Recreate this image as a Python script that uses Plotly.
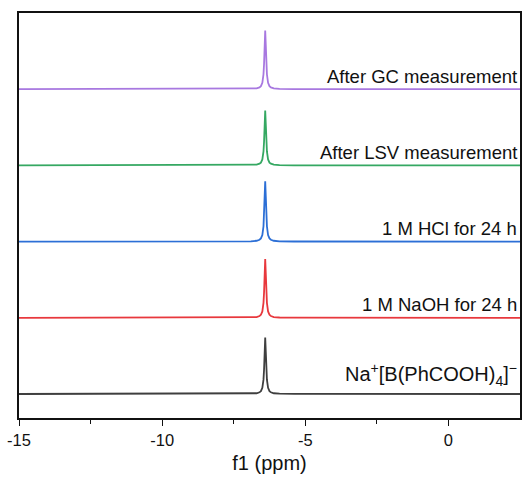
import plotly.graph_objects as go

# chemical shift positions (ppm) sampled across the spectrum
shift_ppm = [-15.0, -7.4, -6.9, -6.7, -6.6, -6.55, -6.5, -6.46, -6.44, -6.42, -6.40,
             -6.38, -6.36, -6.34, -6.30, -6.25, -6.2, -6.1, -5.9, -5.4, 2.5]

# intensities (bottom to top)
int_pristine = [0, 0.001, 0.004, 0.010, 0.022, 0.038, 0.081, 0.188, 0.321, 0.558, 0.74,
                0.558, 0.321, 0.188, 0.081, 0.038, 0.022, 0.010, 0.004, 0.001, 0]
int_naoh = [0, 0.001, 0.004, 0.010, 0.023, 0.040, 0.084, 0.196, 0.334, 0.581, 0.77,
            0.581, 0.334, 0.196, 0.084, 0.040, 0.023, 0.010, 0.004, 0.001, 0]
int_hcl = [0, 0.001, 0.004, 0.011, 0.024, 0.041, 0.086, 0.201, 0.343, 0.596, 0.79,
           0.596, 0.343, 0.201, 0.086, 0.041, 0.024, 0.011, 0.004, 0.001, 0]
int_lsv = [0, 0.001, 0.004, 0.010, 0.022, 0.037, 0.078, 0.183, 0.312, 0.543, 0.72,
           0.543, 0.312, 0.183, 0.078, 0.037, 0.022, 0.010, 0.004, 0.001, 0]
int_gc = [0, 0.001, 0.004, 0.010, 0.023, 0.040, 0.084, 0.196, 0.334, 0.581, 0.77,
          0.581, 0.334, 0.196, 0.084, 0.040, 0.023, 0.010, 0.004, 0.001, 0]

labels = ["Na<sup>+</sup>[B(PhCOOH)<sub>4</sub>]<sup>\u2212</sup>",
          "1 M NaOH for 24 h",
          "1 M HCl for 24 h",
          "After LSV measurement",
          "After GC measurement"]
series = [int_pristine, int_naoh, int_hcl, int_lsv, int_gc]
colors = ["#3f3f3f", "#e8383d", "#2c6fd6", "#35a862", "#a878e0"]

x_ticks = [-15, -10, -5, 0]
x_tick_labels = ["-15", "-10", "-5", "0"]

fig = go.Figure()
for i, (ys, col, lab) in enumerate(zip(series, colors, labels)):
    fig.add_trace(go.Scatter(
        x=shift_ppm, y=[v + i for v in ys], mode="lines",
        line=dict(color=col, width=1.8), showlegend=False, hoverinfo="skip"))
    big = i == 0
    fig.add_annotation(
        x=1, xref="paper", xanchor="right", xshift=-1,
        y=i, yref="y", yanchor="middle", yshift=20 if big else 13,
        text=lab, showarrow=False,
        font=dict(family="Liberation Sans, Arial, sans-serif",
                  size=20 if big else 18.5, color="#111111"))

fig.update_layout(
    width=524, height=479,
    margin=dict(l=19, r=2, t=13, b=61),
    paper_bgcolor="white", plot_bgcolor="white",
    font=dict(family="Liberation Sans, Arial, sans-serif", color="#111111"),
    xaxis=dict(
        range=[-15, 2.5], tickvals=x_ticks, ticktext=x_tick_labels,
        ticks="outside", ticklen=6, tickwidth=1.3, tickcolor="#111111",
        minor=dict(tickvals=[-12.5, -7.5, -2.5], ticks="outside", ticklen=4,
                   tickwidth=1.3, tickcolor="#111111"),
        showgrid=False, zeroline=False,
        showline=True, linecolor="#111111", linewidth=1.5, mirror=True,
        tickfont=dict(size=16.5),
        title=dict(text="f1 (ppm)", font=dict(size=20), standoff=8),
    ),
    yaxis=dict(
        range=[-0.315, 5.0], showticklabels=False, ticks="",
        showgrid=False, zeroline=False,
        showline=True, linecolor="#111111", linewidth=1.5, mirror=True,
    ),
)

fig.write_html("out.html", config={"displayModeBar": False},
               post_script="document.body.style.margin='0';")
